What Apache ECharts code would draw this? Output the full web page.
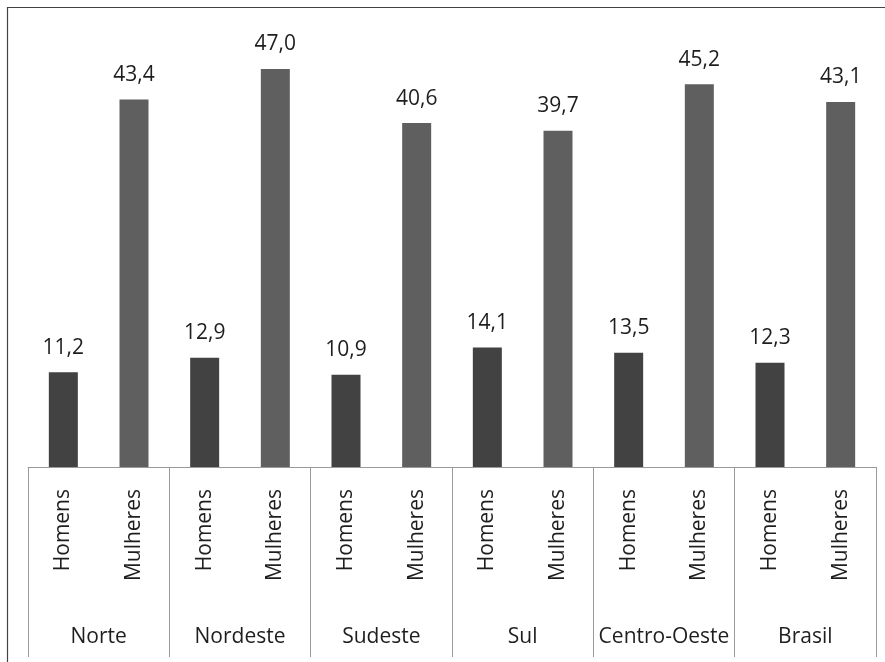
<!DOCTYPE html>
<html>
<head>
<meta charset="utf-8">
<script src="https://cdn.jsdelivr.net/npm/echarts@6/dist/echarts.min.js"></script>
<style>
  html, body { margin: 0; padding: 0; background: #fff; }
  #chart { width: 885px; height: 662px; }
</style>
</head>
<body>
<div id="chart"></div>
<script>
// Regions and sex groups
const regions = ['Norte', 'Nordeste', 'Sudeste', 'Sul', 'Centro-Oeste', 'Brasil'];
const sexes = ['Homens', 'Mulheres'];
// Percentages per region
const homens = [11.2, 12.9, 10.9, 14.1, 13.5, 12.3];
const mulheres = [43.4, 47.0, 40.6, 39.7, 45.2, 43.1];

const colors = { Homens: '#424242', Mulheres: '#5f5f5f' };
const FONT = '"Open Sans", sans-serif';

// Flatten to one category per bar: region × sex
const barCats = [];
const barData = [];
regions.forEach((r, i) => {
  barCats.push(sexes[0]);
  barData.push({ value: homens[i], itemStyle: { color: colors.Homens } });
  barCats.push(sexes[1]);
  barData.push({ value: mulheres[i], itemStyle: { color: colors.Mulheres } });
});

const chart = echarts.init(document.getElementById('chart'), null, { renderer: 'canvas' });
chart.setOption({
  animation: false,
  backgroundColor: '#fff',
  grid: { left: 28, right: 9, top: 43.5, bottom: 195, containLabel: false },
  xAxis: [
    {
      type: 'category',
      data: barCats,
      position: 'bottom',
      axisLine: { show: true, lineStyle: { color: '#9a9a9a', width: 1 } },
      axisTick: { show: false },
      axisLabel: {
        rotate: 90,
        margin: 22,
        interval: 0,
        fontFamily: FONT,
        fontSize: 21,
        color: '#1e1e1e'
      }
    },
    {
      type: 'category',
      data: regions,
      position: 'bottom',
      offset: 190,
      axisLine: { show: false },
      axisTick: { show: true, inside: true, length: 190, lineStyle: { color: '#9a9a9a', width: 1 } },
      axisLabel: {
        inside: true,
        margin: 9,
        interval: 0,
        fontFamily: FONT,
        fontSize: 21,
        color: '#1e1e1e'
      }
    }
  ],
  yAxis: { type: 'value', min: 0, max: 50, show: false, splitLine: { show: false } },
  series: [
    {
      type: 'bar',
      xAxisIndex: 0,
      data: barData,
      barWidth: 29,
      label: {
        show: true,
        position: 'top',
        distance: 14,
        fontFamily: FONT,
        fontSize: 21,
        color: '#1e1e1e',
        formatter: p => p.value.toFixed(1).replace('.', ',')
      }
    }
  ],
  graphic: [
    {
      type: 'rect',
      shape: { x: 7.5, y: 7.5, width: 900, height: 700 },
      style: { fill: 'none', stroke: '#444', lineWidth: 1.2 },
      silent: true
    }
  ]
});
</script>
</body>
</html>
